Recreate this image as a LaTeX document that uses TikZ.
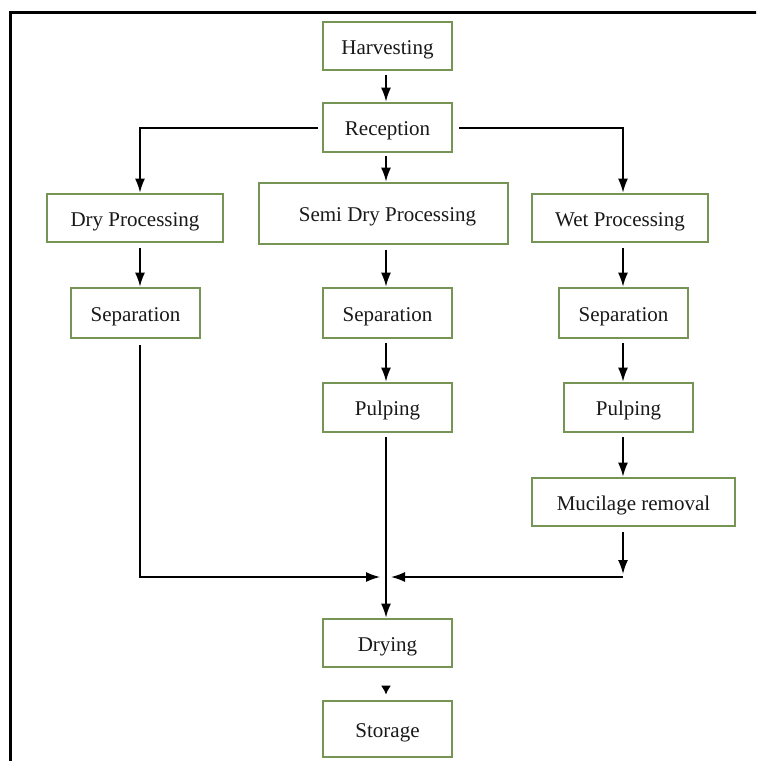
\documentclass[tikz,border=0pt]{standalone}
\usepackage{fontspec}
\setmainfont{Liberation Serif}
\usetikzlibrary{arrows.meta}
\definecolor{boxgreen}{RGB}{118,148,84}
\definecolor{txt}{RGB}{25,25,25}
\tikzset{
  stepbox/.style={draw=boxgreen, line width=2.8pt, fill=white, inner sep=0pt,
    minimum width=#1, minimum height=48pt, text=txt, text height=16pt, text depth=0pt,
    font=\fontsize{21}{24}\selectfont},
  stepbox/.default=129pt,
  arr/.style={draw=black, line width=1.5pt, -{Latex[length=14pt,width=10pt]}},
  smallarr/.style={draw=black, line width=1.4pt, -{Latex[length=9pt,width=10pt]}},
  frameline/.style={draw=black, line width=3pt}
}
\begin{document}
\begin{tikzpicture}[x=1pt,y=-1pt]
\path[use as bounding box, clip] (0,0) rectangle (756,761);
\fill[white] (0,0) rectangle (756,761);
\draw[frameline] (10.5,780) -- (10.5,12.5) -- (780,12.5);

% column coordinates
\coordinate (cl) at (140,0);
\coordinate (cm) at (386,0);
\coordinate (cr) at (623,0);

% nodes
\node[stepbox] (harv) at (387.5,46) {Harvesting};
\node[stepbox, minimum height=49pt] (rec) at (387.5,127.5) {Reception};
\node[stepbox=176pt] (dry) at (135,218) {Dry Processing};
\node[stepbox=249pt, minimum height=61pt] (semi) at (383.5,213.5) {\hspace*{8pt}Semi Dry Processing};
\node[stepbox=176pt] (wet) at (620,218) {Wet Processing};
\node[stepbox, minimum height=50pt] (sep1) at (135.5,313) {Separation};
\node[stepbox, minimum height=50pt] (sep2) at (387.5,313) {Separation};
\node[stepbox, minimum height=50pt] (sep3) at (623.5,313) {Separation};
\node[stepbox, minimum height=49pt] (pulp2) at (387.5,407.5) {Pulping};
\node[stepbox, minimum height=49pt] (pulp3) at (628.5,407.5) {Pulping};
\node[stepbox=203pt] (muc) at (633.5,502) {Mucilage removal};
\node[stepbox] (drying) at (387.5,643) {Drying};
\node[stepbox, minimum height=56pt] (stor) at (387.5,729) {Storage};

% junction coordinates
\coordinate (rl) at (318,128);
\coordinate (rr) at (459,128);
\coordinate (jl) at (140,577);
\coordinate (jr) at (623,577);
\coordinate (jla) at (380,577);
\coordinate (jra) at (391,577);

% connectors
\draw[arr] ([yshift=-4pt]harv.south -| cm) -- (rec.north -| cm);
\draw[arr] (rl) -| (dry.north -| cl);
\draw[arr] ([yshift=-3pt]rec.south -| cm) -- (semi.north -| cm);
\draw[arr] (rr) -| (wet.north -| cr);

\draw[arr] ([yshift=-5pt]dry.south -| cl) -- (sep1.north -| cl);
\draw[arr] ([yshift=-5pt]semi.south -| cm) -- (sep2.north -| cm);
\draw[arr] ([yshift=-5pt]wet.south -| cr) -- (sep3.north -| cr);

\draw[arr] ([yshift=-4pt]sep2.south -| cm) -- (pulp2.north -| cm);
\draw[arr] ([yshift=-4pt]sep3.south -| cr) -- (pulp3.north -| cr);
\draw[arr] ([yshift=-4pt]pulp3.south -| cr) -- (muc.north -| cr);

\draw[arr] ([yshift=-6pt]sep1.south -| cl) -- (jl) -- (jla);
\draw[arr] ([yshift=-5pt]muc.south -| cr) -- ([yshift=3pt]jr);
\draw[arr] (jr) -- (jra);
\draw[arr] ([yshift=-4pt]pulp2.south -| cm) -- (drying.north -| cm);
\draw[smallarr] ([yshift=-20pt]drying.south -| cm) -- ([yshift=5pt]stor.north -| cm);
\end{tikzpicture}
\end{document}
